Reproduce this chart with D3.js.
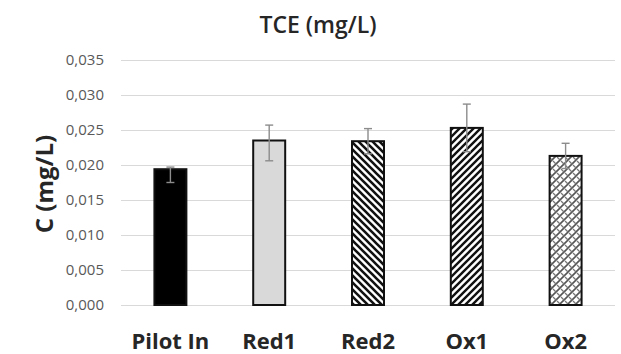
<!DOCTYPE html>
<html>
<head>
<meta charset="utf-8">
<script src="https://cdn.jsdelivr.net/npm/d3@7"></script>
<style>
  body { margin: 0; background: #fff; }
  svg { display: block; }
</style>
</head>
<body>
<div id="chart"></div>
<script>
// data
var categories = ["Pilot In", "Red1", "Red2", "Ox1", "Ox2"];
var values = [0.0194, 0.0235, 0.0234, 0.0253, 0.0213];
var errPlus = [0.0003, 0.0022, 0.0018, 0.0034, 0.0018];
var errMinus = [0.0019, 0.0029, 0.0018, 0.0034, 0.0018];
var fills = ["black", "gray", "diagDown", "diagUp", "weave"];
var yTicks = [0, 0.005, 0.010, 0.015, 0.020, 0.025, 0.030, 0.035];

var width = 621, height = 354;
var margin = {top: 60, right: 6, bottom: 49, left: 121};

var svg = d3.select("#chart").append("svg")
    .attr("width", width)
    .attr("height", height);

var defs = svg.append("defs");

// wide downward diagonal
var p1 = defs.append("pattern")
    .attr("id", "diagDown")
    .attr("patternUnits", "userSpaceOnUse")
    .attr("width", 7).attr("height", 7);
p1.append("rect").attr("width", 7).attr("height", 7).attr("fill", "#fff");
p1.append("path")
    .attr("d", "M-1,-1 L8,8 M-1,6 L1,8 M6,-1 L8,1")
    .attr("stroke", "#111").attr("stroke-width", 2.6);

// wide upward diagonal
var p2 = defs.append("pattern")
    .attr("id", "diagUp")
    .attr("patternUnits", "userSpaceOnUse")
    .attr("width", 7).attr("height", 7);
p2.append("rect").attr("width", 7).attr("height", 7).attr("fill", "#fff");
p2.append("path")
    .attr("d", "M-1,8 L8,-1 M-1,1 L1,-1 M6,8 L8,6")
    .attr("stroke", "#111").attr("stroke-width", 2.4);

// trellis / weave
var p3 = defs.append("pattern")
    .attr("id", "weave")
    .attr("patternUnits", "userSpaceOnUse")
    .attr("width", 8).attr("height", 8);
p3.append("rect").attr("width", 8).attr("height", 8).attr("fill", "#fff");
p3.append("path")
    .attr("d", "M0,8 L8,0 M-1,1 L1,-1 M7,9 L9,7")
    .attr("stroke", "#555").attr("stroke-width", 1.6);
p3.append("path")
    .attr("d", "M1,1 L4,4 M5,5 L8,8")
    .attr("stroke", "#777").attr("stroke-width", 1.3);

var x = d3.scaleBand()
    .domain(categories)
    .range([margin.left, width - margin.right])
    .paddingInner(0.656)
    .paddingOuter(0.328);

var y = d3.scaleLinear()
    .domain([0, 0.035])
    .range([height - margin.bottom, margin.top]);

// gridlines
svg.append("g")
    .selectAll("line")
    .data(yTicks)
    .enter().append("line")
    .attr("x1", margin.left)
    .attr("x2", width - margin.right)
    .attr("y1", function(d) { return Math.round(y(d)) + 0.5; })
    .attr("y2", function(d) { return Math.round(y(d)) + 0.5; })
    .attr("stroke", "#d9d9d9")
    .attr("stroke-width", 1.2);

// y axis labels
var yAxis = d3.axisLeft(y)
    .tickValues(yTicks)
    .tickSize(0)
    .tickPadding(0)
    .tickFormat(function(d) { return d3.format(".3f")(d).replace(".", ","); });

var gy = svg.append("g")
    .attr("transform", "translate(" + 104 + ",0)")
    .call(yAxis);
gy.select(".domain").remove();
gy.selectAll("text")
    .attr("fill", "#595959")
    .style("font-family", "'Open Sans', sans-serif")
    .style("font-size", "15px");

// bars
var fillFor = function(f) {
    if (f == "black") return "#000";
    if (f == "gray") return "#d9d9d9";
    return "url(#" + f + ")";
};

svg.append("g")
    .selectAll("rect")
    .data(values)
    .enter().append("rect")
    .attr("x", function(d, i) { return x(categories[i]) + 1; })
    .attr("y", function(d) { return y(d); })
    .attr("width", x.bandwidth() - 2)
    .attr("height", function(d) { return y(0) - y(d); })
    .attr("fill", function(d, i) { return fillFor(fills[i]); })
    .attr("stroke", "#111")
    .attr("stroke-width", 2);

// error bars
var eb = svg.append("g")
    .selectAll("g")
    .data(values)
    .enter().append("g")
    .attr("stroke", "#8c8c8c")
    .attr("stroke-width", 1.4);

eb.append("line")
    .attr("x1", function(d, i) { return x(categories[i]) + x.bandwidth() / 2; })
    .attr("x2", function(d, i) { return x(categories[i]) + x.bandwidth() / 2; })
    .attr("y1", function(d, i) { return y(d + errPlus[i]); })
    .attr("y2", function(d, i) { return y(d - errMinus[i]); });

eb.append("line")
    .attr("x1", function(d, i) { return x(categories[i]) + x.bandwidth() / 2 - 4; })
    .attr("x2", function(d, i) { return x(categories[i]) + x.bandwidth() / 2 + 4; })
    .attr("y1", function(d, i) { return y(d + errPlus[i]); })
    .attr("y2", function(d, i) { return y(d + errPlus[i]); });

eb.append("line")
    .attr("x1", function(d, i) { return x(categories[i]) + x.bandwidth() / 2 - 4; })
    .attr("x2", function(d, i) { return x(categories[i]) + x.bandwidth() / 2 + 4; })
    .attr("y1", function(d, i) { return y(d - errMinus[i]); })
    .attr("y2", function(d, i) { return y(d - errMinus[i]); });

// category labels
svg.append("g")
    .selectAll("text")
    .data(categories)
    .enter().append("text")
    .attr("x", function(d) { return x(d) + x.bandwidth() / 2; })
    .attr("y", 349)
    .attr("text-anchor", "middle")
    .attr("fill", "#262626")
    .style("font-family", "'Open Sans', sans-serif")
    .style("font-weight", "bold")
    .style("font-size", "22px")
    .text(function(d) { return d; });

// y title
svg.append("text")
    .attr("transform", "translate(53,184) rotate(-90)")
    .attr("text-anchor", "middle")
    .attr("fill", "#262626")
    .style("font-family", "'Open Sans', sans-serif")
    .style("font-weight", "bold")
    .style("font-size", "24px")
    .text("C (mg/L)");

// title
svg.append("text")
    .attr("x", 318)
    .attr("y", 33)
    .attr("text-anchor", "middle")
    .attr("fill", "#262626")
    .style("font-family", "'Open Sans', sans-serif")
    .style("font-weight", "600")
    .style("font-size", "23px")
    .text("TCE (mg/L)");
</script>
</body>
</html>
